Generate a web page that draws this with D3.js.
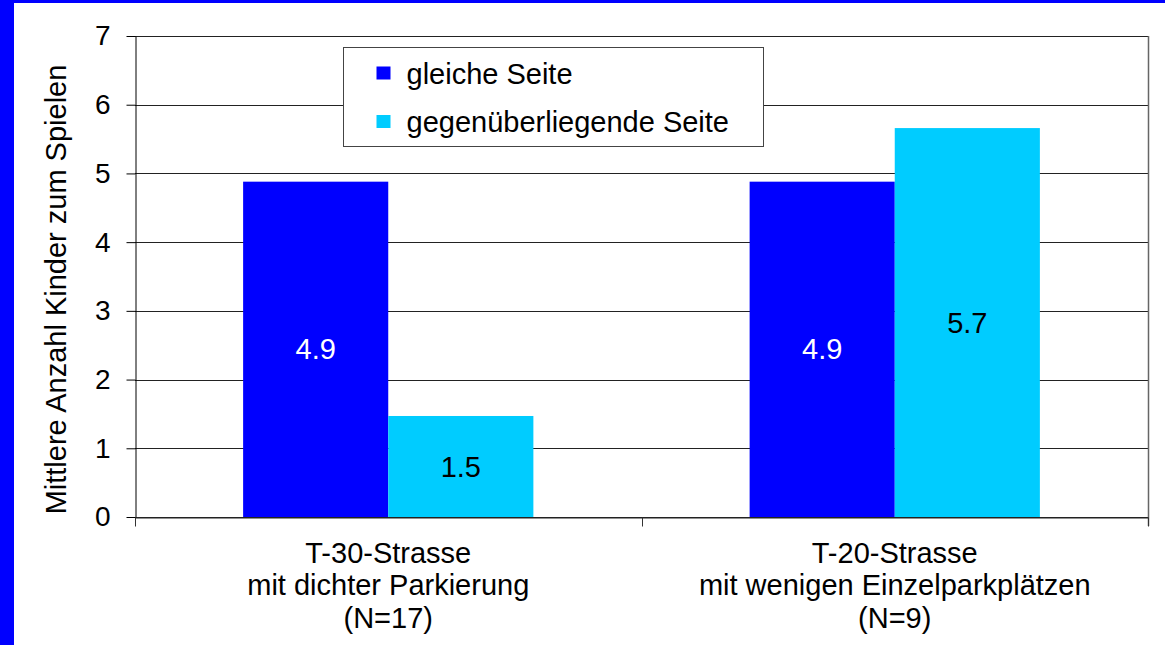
<!DOCTYPE html>
<html>
<head>
<meta charset="utf-8">
<script src="https://cdn.jsdelivr.net/npm/d3@7"></script>
<style>
  html, body { margin: 0; padding: 0; background: #0000ff; }
  svg { display: block; }
  text { font-family: "Liberation Sans", Arial, sans-serif; }
</style>
</head>
<body>
<div id="chart"></div>
<script>
var width = 1165, height = 645

// data
var categories = ['T-30-Strasse|mit dichter Parkierung|(N=17)', 'T-20-Strasse|mit wenigen Einzelparkplätzen|(N=9)']
var seriesNames = ['gleiche Seite', 'gegenüberliegende Seite']
var gleicheSeite = [4.88, 4.88]
var gegenueberSeite = [1.47, 5.66]
var yTicks = [0, 1, 2, 3, 4, 5, 6, 7]
var colors = ['#0000ff', '#00ccff']
var labelColors = ['white', 'black']

var margin = {top: 36, right: 17, bottom: 128, left: 135}
var fontSize = "29px"

var svg = d3.select("#chart")
  .append("svg")
  .attr("width", width)
  .attr("height", height)

// white panel inside the blue frame
svg.append("rect")
  .attr("x", 14)
  .attr("y", 3)
  .attr("width", width - 14)
  .attr("height", height - 3)
  .attr("fill", "white")

var yScale = d3.scaleLinear()
  .domain([0, 7])
  .range([height - margin.bottom, margin.top])

var xScale = d3.scaleBand()
  .domain(categories)
  .range([margin.left, width - margin.right])

var xInner = d3.scaleBand()
  .domain([0, 1])
  .range([0, xScale.bandwidth()])
  .paddingOuter(0.745)

// grid lines
svg.append("g")
  .attr("class", "grid")
  .selectAll("line")
  .data(yTicks)
  .enter()
  .append("line")
  .attr("x1", margin.left)
  .attr("x2", width - margin.right)
  .attr("y1", d => Math.round(yScale(d)) + 0.5)
  .attr("y2", d => Math.round(yScale(d)) + 0.5)
  .attr("stroke", "#222")

// right border
svg.append("line")
  .attr("x1", width - margin.right + 0.5)
  .attr("x2", width - margin.right + 0.5)
  .attr("y1", margin.top)
  .attr("y2", height - margin.bottom + 9)
  .attr("stroke", "#666")
  .attr("stroke-width", 1.5)

// bars
var rows = categories.map((c, i) => ({cat: c, values: [gleicheSeite[i], gegenueberSeite[i]]}))

var groups = svg.selectAll("g.cat")
  .data(rows)
  .enter()
  .append("g")
  .attr("class", "cat")
  .attr("transform", d => `translate(${xScale(d.cat)},0)`)

groups.selectAll("rect")
  .data(d => d.values.map((v, j) => ({v: v, j: j})))
  .enter()
  .append("rect")
  .attr("x", d => xInner(d.j))
  .attr("y", d => yScale(d.v))
  .attr("width", xInner.bandwidth())
  .attr("height", d => yScale(0) - yScale(d.v))
  .attr("fill", d => colors[d.j])

groups.selectAll("text")
  .data(d => d.values.map((v, j) => ({v: v, j: j})))
  .enter()
  .append("text")
  .attr("x", d => xInner(d.j) + xInner.bandwidth() / 2)
  .attr("y", d => (yScale(d.v) + yScale(0)) / 2)
  .attr("dy", "0.35em")
  .attr("text-anchor", "middle")
  .attr("font-size", fontSize)
  .attr("fill", d => labelColors[d.j])
  .text(d => d3.format(".1f")(d.v))

// y axis
var yAxis = d3.axisLeft(yScale)
  .tickValues(yTicks)
  .tickSize(9)
  .tickSizeOuter(0)
  .tickPadding(16)
  .tickFormat(d3.format("d"))

svg.append("g")
  .attr("transform", `translate(${margin.left + 0.5},0)`)
  .attr("class", "y-axis")
  .call(yAxis)
  .call(g => g.select(".domain").attr("stroke", "#000"))
  .selectAll("text")
  .attr("font-size", "28px")
  .attr("fill", "#000")
  .attr("font-family", '"Liberation Sans", Arial, sans-serif')

// x axis
var xAxis = d3.axisBottom(xScale)
  .tickValues([])
  .tickSizeOuter(0)

var xAxisG = svg.append("g")
  .attr("transform", `translate(0,${Math.round(yScale(0)) + 0.5})`)
  .attr("class", "x-axis")
  .call(xAxis)

xAxisG.select(".domain").attr("stroke", "#222")

var tickXs = [xScale.range()[0]].concat(categories.map(c => xScale(c) + xScale.bandwidth()))
xAxisG.selectAll("line.tk")
  .data(tickXs)
  .enter()
  .append("line")
  .attr("class", "tk")
  .attr("x1", d => Math.round(d) + 0.5)
  .attr("x2", d => Math.round(d) + 0.5)
  .attr("y1", 0)
  .attr("y2", 9)
  .attr("stroke", "#333")

xAxisG.selectAll("text.cat")
  .data(categories)
  .enter()
  .append("text")
  .attr("class", "cat")
  .attr("text-anchor", "middle")
  .attr("font-size", fontSize)
  .attr("fill", "#000")
  .attr("y", 45)
  .each(function(d) {
    var x = xScale(d) + xScale.bandwidth() / 2
    d3.select(this).selectAll("tspan")
      .data(d.split("|"))
      .enter()
      .append("tspan")
      .attr("x", x)
      .attr("dy", (t, i) => i === 0 ? 0 : 32.5)
      .text(t => t)
  })

// y title
svg.append("text")
  .attr("transform", `translate(66,${(margin.top + yScale(0)) / 2 + 13}) rotate(-90)`)
  .attr("text-anchor", "middle")
  .attr("font-size", fontSize)
  .attr("fill", "#000")
  .text("Mittlere Anzahl Kinder zum Spielen")

// legend
var legend = svg.append("g")
  .attr("class", "legend")
  .attr("transform", "translate(343.5,47.5)")

legend.append("rect")
  .attr("width", 420)
  .attr("height", 99)
  .attr("fill", "white")
  .attr("stroke", "#444")

var legendItems = legend.selectAll("g.item")
  .data(seriesNames)
  .enter()
  .append("g")
  .attr("class", "item")
  .attr("transform", (d, i) => `translate(0,${26 + i * 48.5})`)

legendItems.append("rect")
  .attr("x", 33)
  .attr("y", -7)
  .attr("width", 14)
  .attr("height", 13)
  .attr("fill", (d, i) => colors[i])

legendItems.append("text")
  .attr("x", 63)
  .attr("dy", "0.35em")
  .attr("font-size", fontSize)
  .attr("fill", "#000")
  .text(d => d)
</script>
</body>
</html>
